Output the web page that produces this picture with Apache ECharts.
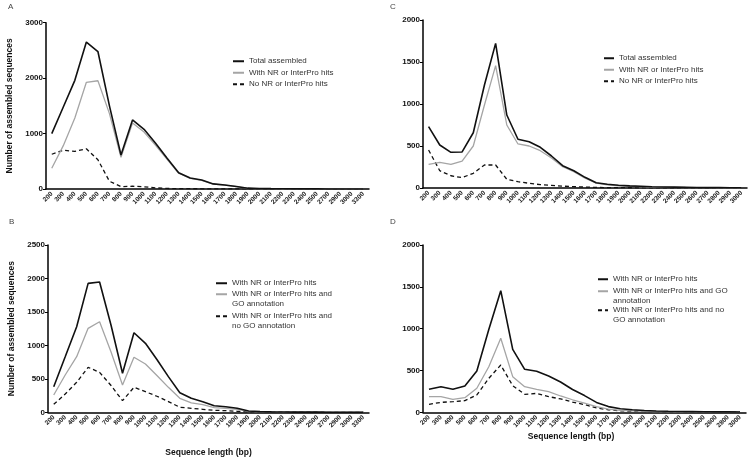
<!DOCTYPE html>
<html><head><meta charset="utf-8">
<script src="https://cdn.jsdelivr.net/npm/echarts@6/dist/echarts.min.js"></script>
<style>html,body{margin:0;padding:0;background:#fff}#c{width:750px;height:462px}</style>
</head><body><div id="c"></div>
<script>
// ---- categories (sequence length, bp) ----
const catLeft = ['200','300','400','500','600','700','800','900','1000','1100','1200','1300','1400','1500','1600','1700','1800','1900','2000','2100','2200','2300','2400','2500','2700','2900','3000','3300'];
const catC = ['200','300','400','500','600','700','800','900','1000','1100','1200','1300','1400','1500','1600','1700','1800','1900','2000','2100','2200','2300','2400','2500','2600','2700','2800','2900','3000'];
const catD = ['200','300','400','500','600','700','800','900','1000','1100','1200','1300','1400','1500','1600','1700','1800','1900','2000','2100','2200','2300','2400','2500','2600','2800','3000'];

// ---- Panel A ----
const aTotal = [1000,1480,1960,2650,2480,1500,613,1245,1077,824,553,294,200,162,92,72,45,15,10,6,4,3,2,2,1,1,1,1];
const aWith  = [373,782,1280,1925,1953,1360,572,1191,1027,789,533,284,192,156,88,69,43,13,8,5,3,2,1,1,1,1,1,1];
const aNo    = [627,698,680,725,527,140,42,50,40,20,10,6,5,4,3,3,2,2,1,1,1,1,1,1,0,0,0,0];

// ---- Panel B ----
const bWith  = [383,830,1279,1927,1947,1300,583,1189,1031,789,533,293,209,159,99,84,60,19,10,6,4,3,2,2,1,1,1,1];
const bGO    = [258,557,831,1255,1354,900,408,822,722,549,373,209,140,115,70,60,45,15,8,5,3,2,1,1,1,1,1,1];
const bNoGO  = [119,273,448,672,597,400,174,373,308,240,160,75,60,45,30,25,15,5,3,2,1,1,1,1,0,0,0,0];

// ---- Panel C ----
const cTotal = [730,512,425,429,658,1226,1722,869,580,551,485,381,266,206,127,63,44,32,25,20,15,12,10,8,6,5,4,3,3];
const cWith  = [282,306,282,321,500,988,1456,750,524,500,444,357,254,195,118,57,38,27,20,16,12,10,8,6,5,4,3,2,2];
const cNo    = [452,206,146,123,175,274,274,104,75,56,40,32,22,16,11,7,5,4,3,3,2,2,1,1,1,1,1,1,1];

// ---- Panel D ----
const dWith  = [275,306,275,314,494,990,1454,753,514,490,434,362,272,200,118,68,42,30,22,16,12,10,8,6,5,6,4];
const dGO    = [187,187,155,175,287,545,885,426,306,275,247,195,150,110,68,38,24,17,12,9,7,6,5,4,3,3,2];
const dNoGO  = [95,119,127,139,207,406,565,318,215,226,187,160,122,92,52,30,18,13,10,7,5,4,3,2,2,3,2];

// ---- labels ----
const legA = ['Total assembled','With NR or InterPro hits','No NR or InterPro hits'];
const legB = ['With NR or InterPro hits','With NR or InterPro hits and\nGO annotation','With NR or InterPro hits and\nno GO annotation'];
const legD = ['With NR or InterPro hits','With NR or InterPro hits and GO\nannotation','With NR or InterPro hits and no\nGO annotation'];
const yTitle = 'Number of assembled sequences';
const xTitle = 'Sequence length (bp)';

const FONT = 'Liberation Sans, Arial, sans-serif';
const chart = echarts.init(document.getElementById('c'), null, {renderer:'canvas'});

const grids = [
  {left:46, top:22.7, width:323, height:166.3},
  {left:423, top:20, width:324, height:168},
  {left:48, top:245, width:321, height:167.3},
  {left:423, top:245, width:323, height:167.3}
];
const cats = [catLeft, catC, catLeft, catD];
const ymax = [3000, 2000, 2500, 2000];
const yint = [1000, 500, 500, 500];

const xAxes = cats.map((c,i)=>({
  type:'category', gridIndex:i, data:c, boundaryGap:true,
  axisLine:{lineStyle:{color:'#000', width:1.5}},
  axisTick:{alignWithLabel:true, interval:0, length:3, lineStyle:{color:'#000', width:1}},
  axisLabel:{interval:0, rotate:45, fontSize:6.5, fontWeight:'bold', color:'#222', margin:4, fontFamily:FONT},
  splitLine:{show:false},
  name: (i===2||i===3) ? xTitle : '',
  nameLocation:'middle',
  nameGap: i===2 ? 36 : 19,
  nameTextStyle:{fontSize:8.5, fontWeight:'bold', color:'#111', fontFamily:FONT, padding: i===3 ? [0,27,0,0] : 0}
}));
const yAxes = ymax.map((m,i)=>({
  type:'value', gridIndex:i, min:0, max:m, interval:yint[i],
  axisLine:{show:true, lineStyle:{color:'#000', width:1.5}},
  axisTick:{show:true, length:3, lineStyle:{color:'#000', width:1}},
  axisLabel:{fontSize:8, fontWeight:'bold', color:'#111', margin:3, fontFamily:FONT, formatter:v=>String(v)},
  splitLine:{show:false},
  name: (i===0||i===2) ? yTitle : '',
  nameLocation:'middle', nameGap:32,
  nameTextStyle:{fontSize:8.5, fontWeight:'bold', color:'#111', fontFamily:FONT}
}));

const BLACK = {color:'#111', width:1.6, type:'solid'};
const GRAY = {color:'#a5a5a5', width:1.3, type:'solid'};
const DASH = {color:'#111', width:1.3, type:[4,3]};
function s(panel, label, data, idx, ls, z){
  return {type:'line', name: panel+'|'+label, data, xAxisIndex:idx, yAxisIndex:idx,
    symbol:'none', showSymbol:false, lineStyle:ls, itemStyle:{color:ls.color}, z, animation:false};
}
const series = [
  s('A', legA[0], aTotal, 0, BLACK, 4), s('A', legA[1], aWith, 0, GRAY, 3), s('A', legA[2], aNo, 0, DASH, 2),
  s('C', legA[0], cTotal, 1, BLACK, 4), s('C', legA[1], cWith, 1, GRAY, 3), s('C', legA[2], cNo, 1, DASH, 2),
  s('B', legB[0], bWith, 2, BLACK, 4), s('B', legB[1], bGO, 2, GRAY, 3), s('B', legB[2], bNoGO, 2, DASH, 2),
  s('D', legD[0], dWith, 3, BLACK, 4), s('D', legD[1], dGO, 3, GRAY, 3), s('D', legD[2], dNoGO, 3, DASH, 2)
];

const legTS = {fontSize:8, color:'#333', fontFamily:FONT, lineHeight:9.5};
// multi-line entries: a leading empty line keeps the key aligned with the first text line
function lg(names, left, top, iw, multi){
  return {data:names, left, top, orient:'vertical', itemGap:2, itemWidth:iw, itemHeight:8,
    padding:0, formatter:n=>(multi?'\n':'')+n.slice(2), textStyle:legTS, selectedMode:false,
    itemStyle:{opacity:0}};
}
const legends = [
  lg(legA.map(n=>'A|'+n), 232, 56.5, 11, false),
  lg(legA.map(n=>'C|'+n), 603, 53.5, 10, false),
  lg(['B|'+legB[0]], 215, 278.5, 11, false),
  lg(['B|'+legB[1]], 215, 280, 11, true),
  lg(['B|'+legB[2]], 215, 302, 11, true),
  lg(['D|'+legD[0]], 597, 274.5, 10, false),
  lg(['D|'+legD[1]], 597, 277, 10, true),
  lg(['D|'+legD[2]], 597, 296, 10, true)
];

const titles = [['A',8,3],['C',390,3],['B',9,218],['D',390,218]].map(t=>({
  text:t[0], left:t[1], top:t[2], padding:0,
  textStyle:{fontSize:8, fontWeight:'normal', color:'#444', fontFamily:FONT}
}));

chart.setOption({
  animation:false,
  backgroundColor:'#fff',
  title:titles,
  grid:grids,
  xAxis:xAxes,
  yAxis:yAxes,
  legend:legends,
  series
});
</script>
</body></html>
